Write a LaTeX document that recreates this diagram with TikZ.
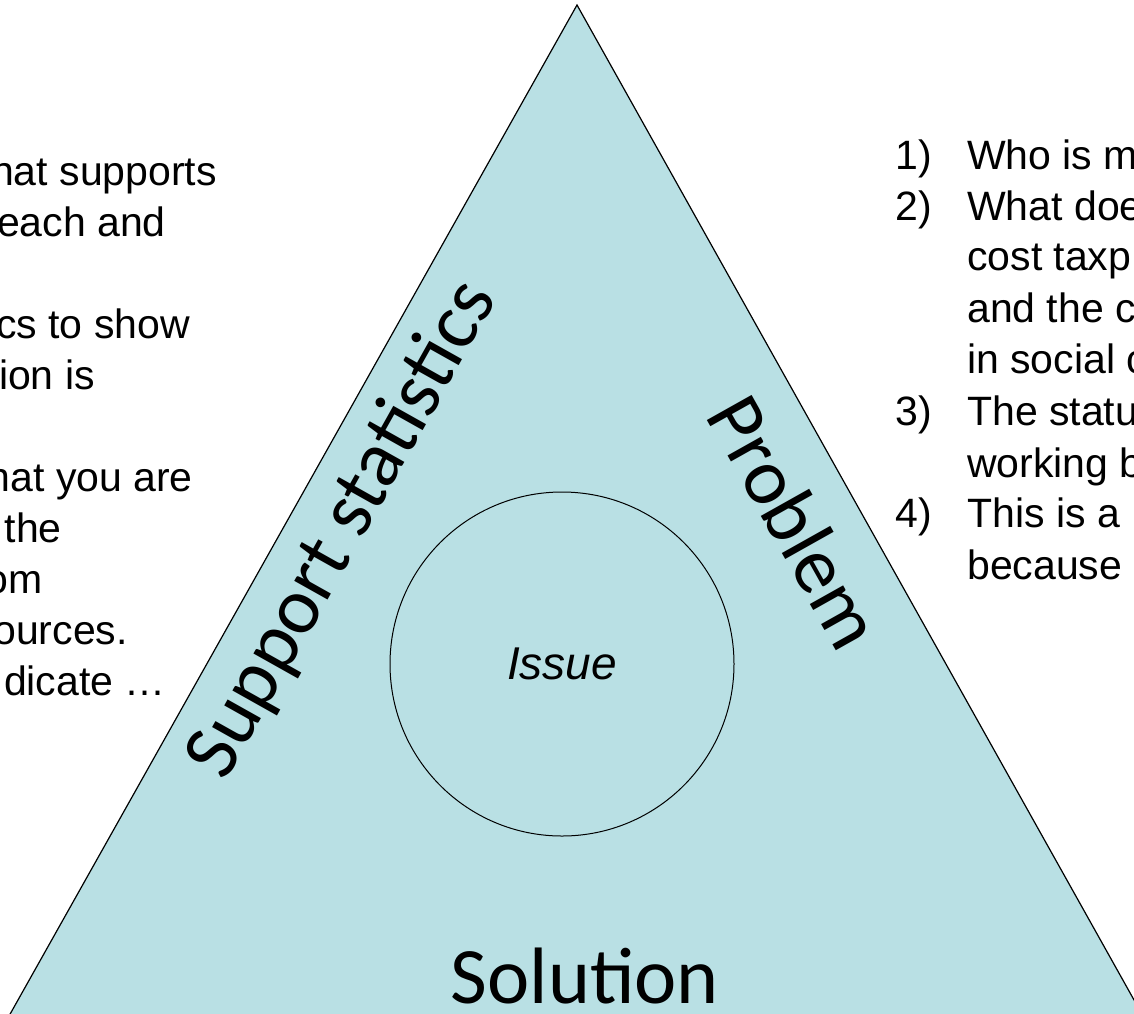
\documentclass[tikz,border=0pt]{standalone}
\usepackage{fontspec}
\setmainfont{Liberation Sans}
\newfontfamily\labelfont{Carlito}
\definecolor{trifill}{RGB}{185,224,228}

\begin{document}
\begin{tikzpicture}[x=1pt,y=-1pt,
    bodytext/.style={inner sep=0pt, font=\fontsize{41}{51}\selectfont},
    leftline/.style={bodytext, anchor=base east},
    listnum/.style={bodytext, anchor=base west},
    listtext/.style={bodytext, anchor=base west},
    sidelabel/.style={inner sep=0pt, font=\labelfont\fontsize{80}{96}\selectfont}]
\useasboundingbox (0,0) rectangle (1134,1013);
% triangle
\coordinate (apex) at (577,5);
\coordinate (baseleft) at (9,1016);
\coordinate (baseright) at (1143,1016);
\draw[fill=trifill, line width=1.2pt] (apex) -- (baseleft) -- (baseright) -- cycle;
% issue in the middle
\node (issue) [draw, circle, line width=1pt, minimum size=344pt, inner sep=0pt,
    font=\itshape\fontsize{46}{55}\selectfont] at (562,664) {Issue};
% side labels
\node (support) [sidelabel, rotate=60.7] at (343,530) {Support statistics};
\node (problem) [sidelabel, rotate=-60.7] at (796,522) {Problem};
\node (solution) [sidelabel, anchor=base] at (585,1003) {Solution};
% left text
\node (left1) [leftline] at (217,185) {hat supports};
\node (left2) [leftline] at (166,236) {each and};
\node (left3) [leftline] at (190,338) {cs to show};
\node (left4) [leftline] at (95,389) {ion is};
\node (left5) [leftline] at (193,491) {hat you are};
\node (left6) [leftline] at (62,542) {the};
\node (left7) [leftline] at (43,593) {om};
\node (left8) [leftline] at (128,644) {ources.};
\node (left9) [leftline] at (166,695) {dicate …};
% right list
\node (num1) [listnum] at (895,169) {1)};
\node (item1) [listtext] at (967,169) {Who is m};
\node (num2) [listnum] at (895,220) {2)};
\node (item2a) [listtext] at (967,220) {What doe};
\node (item2b) [listtext] at (967,270) {cost taxp};
\node (item2c) [listtext] at (967,322) {and the c};
\node (item2d) [listtext] at (967,373) {in social c};
\node (num3) [listnum] at (895,425) {3)};
\node (item3a) [listtext] at (967,425) {The statu};
\node (item3b) [listtext] at (967,477) {working b};
\node (num4) [listnum] at (895,527) {4)};
\node (item4a) [listtext] at (967,527) {This is a};
\node (item4b) [listtext] at (967,579) {because};
\end{tikzpicture}
\end{document}
